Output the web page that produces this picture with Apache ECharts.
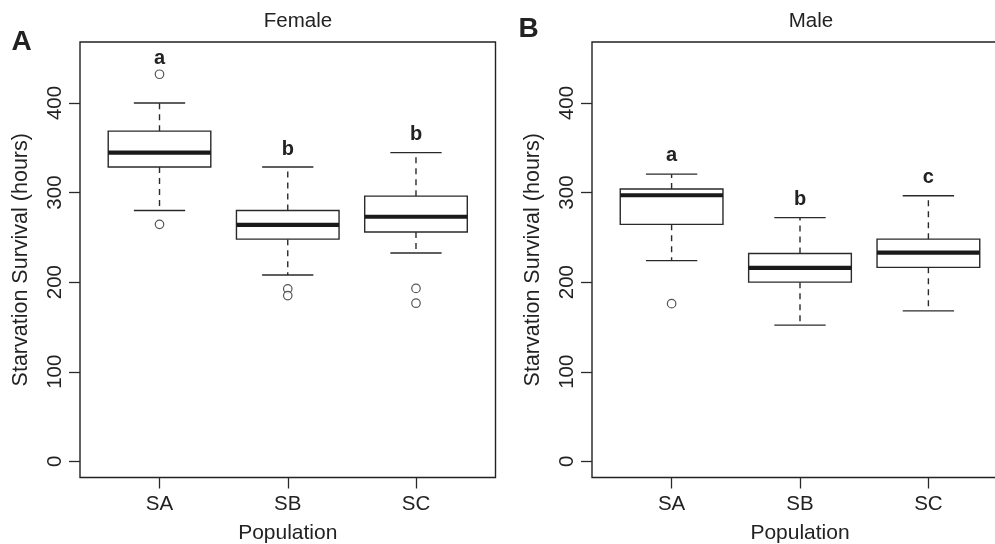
<!DOCTYPE html>
<html>
<head>
<meta charset="utf-8">
<script src="https://cdn.jsdelivr.net/npm/echarts@6/dist/echarts.min.js"></script>
<style>
html,body{margin:0;padding:0;background:#fff;}
#main{width:995px;height:544px;}
</style>
</head>
<body>
<div id="main"></div>
<script>
// ---- data ----
const categories = ['SA', 'SB', 'SC'];
const yTicks = [0, 100, 200, 300, 400];
// [lower whisker, Q1, median, Q3, upper whisker]
const femaleStats = [
  [280, 328.5, 344.5, 368.5, 400],
  [208, 248, 264, 280, 328.5],
  [232.5, 256, 273, 296, 344.5]
];
const femaleOutliers = [[432, 264.5], [192.5, 185], [193, 176.5]];
const femaleLetters = ['a', 'b', 'b'];
const femaleLetterY = [449.6, 348, 364.7];

const maleStats = [
  [224, 264.5, 297, 304, 320.5],
  [152, 200, 216, 232, 272],
  [168, 216.5, 233, 248, 296.5]
];
const maleOutliers = [[176], [], []];
const maleLetters = ['a', 'b', 'c'];
const maleLetterY = [341, 292.5, 316.7];

// ---- chart ----
const FONT = 'Liberation Sans, Arial, Helvetica, sans-serif';
const INK = '#222';
const chart = echarts.init(document.getElementById('main'), null, {renderer: 'canvas'});

function boxData(stats) {
  return stats.map((s, i) => [i + 1].concat(s));
}
function outlierData(outs) {
  const r = [];
  outs.forEach((arr, i) => arr.forEach(v => r.push([i + 1, v])));
  return r;
}
function letterData(letters, ys) {
  return letters.map((l, i) => [i + 1, ys[i], l]);
}

function renderBox(params, api) {
  const x = api.value(0);
  const pLo = api.coord([x, api.value(1)]);
  const pQ1 = api.coord([x, api.value(2)]);
  const pMed = api.coord([x, api.value(3)]);
  const pQ3 = api.coord([x, api.value(4)]);
  const pHi = api.coord([x, api.value(5)]);
  const bw = api.size([0.8, 0])[0];
  const cw = api.size([0.4, 0])[0];
  const cx = pLo[0];
  const thin = {stroke: '#2a2a2a', lineWidth: 1.4, fill: null};
  const dash = {stroke: '#2a2a2a', lineWidth: 1.4, lineDash: [6, 5], fill: null};
  return {
    type: 'group',
    children: [
      {type: 'line', shape: {x1: cx, y1: pQ3[1], x2: cx, y2: pHi[1]}, style: dash},
      {type: 'line', shape: {x1: cx, y1: pQ1[1], x2: cx, y2: pLo[1]}, style: dash},
      {type: 'line', shape: {x1: cx - cw / 2, y1: pHi[1], x2: cx + cw / 2, y2: pHi[1]}, style: thin},
      {type: 'line', shape: {x1: cx - cw / 2, y1: pLo[1], x2: cx + cw / 2, y2: pLo[1]}, style: thin},
      {type: 'rect', shape: {x: cx - bw / 2, y: pQ3[1], width: bw, height: pQ1[1] - pQ3[1]},
        style: {stroke: '#2a2a2a', lineWidth: 1.4, fill: '#fff'}},
      {type: 'line', shape: {x1: cx - bw / 2, y1: pMed[1], x2: cx + bw / 2, y2: pMed[1]},
        style: {stroke: '#1a1a1a', lineWidth: 4.2}}
    ]
  };
}

function renderLetter(params, api) {
  const p = api.coord([api.value(0), api.value(1)]);
  return {
    type: 'text',
    x: p[0], y: p[1],
    style: {
      text: String(api.value(2)),
      textAlign: 'center', textVerticalAlign: 'middle',
      font: 'bold 20px ' + FONT, fill: INK
    }
  };
}

function xAxisDef(gridIndex) {
  return {
    type: 'value', gridIndex: gridIndex, min: 0.38, max: 3.62,
    position: 'bottom',
    splitLine: {show: false},
    axisLine: {show: false, onZero: false},
    axisTick: {show: true, customValues: [1, 2, 3], length: 11, inside: false,
      lineStyle: {color: '#2a2a2a', width: 1.3}},
    axisLabel: {show: true, customValues: [1, 2, 3], formatter: v => categories[Math.round(v) - 1] || '',
      fontSize: 20.5, fontFamily: FONT, color: INK, margin: 16},
    name: 'Population', nameLocation: 'middle', nameGap: 45,
    nameTextStyle: {fontSize: 21, fontFamily: FONT, color: INK}
  };
}
function yAxisDef(gridIndex) {
  return {
    type: 'value', gridIndex: gridIndex, min: -18, max: 468,
    position: 'left',
    splitLine: {show: false},
    axisLine: {show: false, onZero: false},
    axisTick: {show: true, customValues: yTicks, length: 11, inside: false,
      lineStyle: {color: '#2a2a2a', width: 1.3}},
    axisLabel: {show: true, customValues: yTicks, rotate: 90,
      fontSize: 20.5, fontFamily: FONT, color: INK, margin: 14},
    name: 'Starvation Survival (hours)', nameLocation: 'middle', nameGap: 48,
    nameTextStyle: {fontSize: 21.5, fontFamily: FONT, color: INK}
  };
}

function panelSeries(idx, stats, outs, letters, letterY) {
  return [
    {type: 'custom', xAxisIndex: idx, yAxisIndex: idx, renderItem: renderBox,
      data: boxData(stats), encode: {x: 0, y: [1, 2, 3, 4, 5]}, z: 2, silent: true},
    {type: 'scatter', xAxisIndex: idx, yAxisIndex: idx, data: outlierData(outs),
      symbol: 'circle', symbolSize: 8.5,
      itemStyle: {color: '#fff', borderColor: '#2a2a2a', borderWidth: 1.2}, z: 3, silent: true},
    {type: 'custom', xAxisIndex: idx, yAxisIndex: idx, renderItem: renderLetter,
      data: letterData(letters, letterY), encode: {x: 0, y: 1}, z: 4, silent: true}
  ];
}

const option = {
  backgroundColor: '#fff',
  animation: false,
  grid: [
    {left: 80, top: 42, width: 415.5, height: 435.5, show: true, borderColor: '#222', borderWidth: 1.4,
      backgroundColor: 'transparent', containLabel: false, outerBoundsMode: 'none'},
    {left: 592, top: 42, width: 416, height: 435.5, show: true, borderColor: '#222', borderWidth: 1.4,
      backgroundColor: 'transparent', containLabel: false, outerBoundsMode: 'none'}
  ],
  xAxis: [xAxisDef(0), xAxisDef(1)],
  yAxis: [yAxisDef(0), yAxisDef(1)],
  graphic: [
    {type: 'text', x: 298, y: 21.5, style: {text: 'Female', textAlign: 'center', textVerticalAlign: 'middle', font: '20.5px ' + FONT, fill: INK}},
    {type: 'text', x: 811, y: 21.5, style: {text: 'Male', textAlign: 'center', textVerticalAlign: 'middle', font: '20.5px ' + FONT, fill: INK}},
    {type: 'text', x: 21.5, y: 42.5, style: {text: 'A', textAlign: 'center', textVerticalAlign: 'middle', font: 'bold 28px ' + FONT, fill: INK}},
    {type: 'text', x: 528.5, y: 28.8, style: {text: 'B', textAlign: 'center', textVerticalAlign: 'middle', font: 'bold 28px ' + FONT, fill: INK}}
  ],
  series: [].concat(
    panelSeries(0, femaleStats, femaleOutliers, femaleLetters, femaleLetterY),
    panelSeries(1, maleStats, maleOutliers, maleLetters, maleLetterY)
  )
};
chart.setOption(option);
</script>
</body>
</html>
